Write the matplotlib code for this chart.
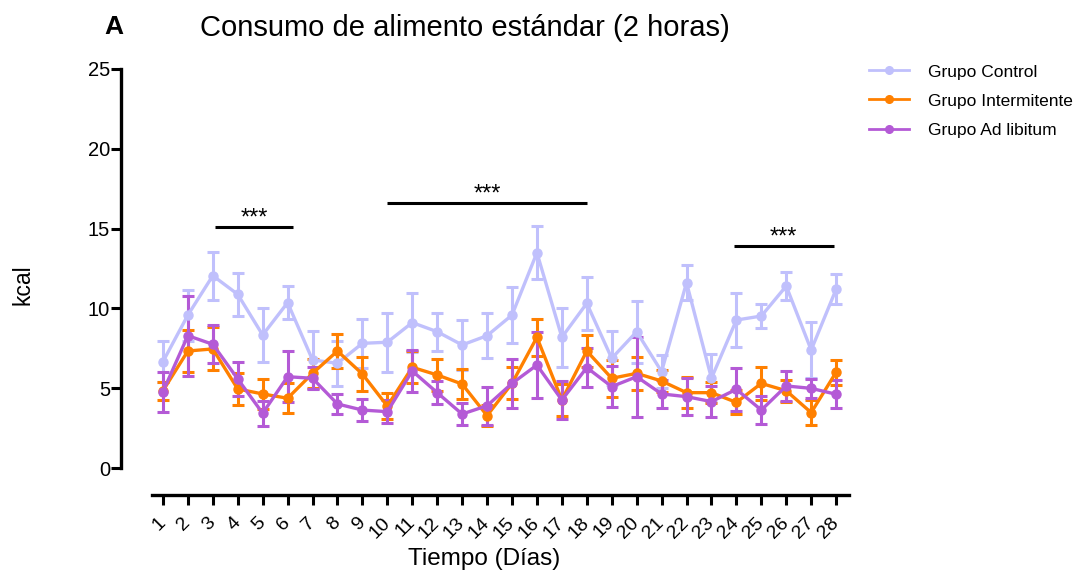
import matplotlib
matplotlib.use("Agg")
import matplotlib.pyplot as plt
from matplotlib.lines import Line2D

plt.rcParams['font.family'] = ['Liberation Sans', 'DejaVu Sans']

days = list(range(1, 29))
day_labels = [str(d) for d in days]

control = [6.66, 9.58, 12.05, 10.88, 8.33, 10.36, 6.77, 6.56, 7.81, 7.88, 9.11, 8.54, 7.71, 8.29,
           9.58, 13.49, 8.19, 10.32, 6.87, 8.54, 6.04, 11.61, 5.62, 9.27, 9.52, 11.40, 7.39, 11.20]
control_err = [1.3, 1.6, 1.5, 1.33, 1.7, 1.05, 1.8, 1.4, 1.55, 1.85, 1.83, 1.2, 1.55, 1.4,
               1.75, 1.65, 1.85, 1.65, 1.7, 1.95, 1.05, 1.1, 1.5, 1.67, 0.77, 0.86, 1.77, 0.93]

intermitente = [4.84, 7.33, 7.46, 4.95, 4.64, 4.37, 5.93, 7.33, 5.89, 3.88, 6.31, 5.83, 5.26, 3.28,
                5.30, 8.19, 4.26, 7.33, 5.62, 5.93, 5.45, 4.72, 4.72, 4.11, 5.30, 4.84, 3.47, 6.00]
intermitente_err = [0.55, 1.3, 1.35, 1.0, 0.95, 0.95, 0.9, 1.05, 1.05, 0.8, 1.0, 1.0, 0.95, 0.65,
                    1.0, 1.15, 1.0, 1.0, 1.15, 1.05, 0.7, 0.95, 0.65, 0.75, 1.05, 0.7, 0.8, 0.77]

adlibitum = [4.78, 8.29, 7.75, 5.58, 3.43, 5.72, 5.62, 4.01, 3.63, 3.53, 6.08, 4.72, 3.38, 3.90,
             5.30, 6.45, 4.26, 6.29, 5.10, 5.72, 4.64, 4.47, 4.16, 4.93, 3.63, 5.14, 4.99, 4.62]
adlibitum_err = [1.25, 2.5, 1.2, 1.05, 0.77, 1.6, 0.7, 0.62, 0.67, 0.7, 1.3, 0.73, 0.68, 1.2,
                 1.55, 2.05, 1.2, 1.2, 1.3, 2.5, 0.9, 1.15, 0.95, 1.35, 0.9, 0.95, 0.6, 0.87]

series_names = ['Grupo Control', 'Grupo Intermitente', 'Grupo Ad libitum']

# significance bars: (start day, end day, height)
sig_start = [3.1, 10.0, 23.9]
sig_end = [6.2, 18.0, 27.9]
sig_y = [15.1, 16.6, 13.9]
sig_text = ['***', '***', '***']

c_control = '#C0C0FC'
c_inter = '#FF8000'
c_adlib = '#B45AD6'
colors = [c_control, c_inter, c_adlib]

fig = plt.figure(figsize=(10.85, 5.71), dpi=100)
ax = fig.add_axes([0.1088, 0.1105, 0.7844 - 0.1088, 0.8932 - 0.1105])

for vals, errs, col, name in zip([control, intermitente, adlibitum],
                                 [control_err, intermitente_err, adlibitum_err],
                                 colors, series_names):
    ax.errorbar(days, vals, yerr=errs, color=col, lw=2.4, marker='o', ms=6.5,
                capsize=4.3, capthick=2.2, elinewidth=2.2, zorder=3)

for s, e, y, t in zip(sig_start, sig_end, sig_y, sig_text):
    ax.plot([s, e], [y, y], color='black', lw=2.2, solid_capstyle='butt')
    ax.text((s + e) / 2, y - 0.15, t, ha='center', va='bottom', fontsize=17)

ax.set_xlim(-0.8, 28.6)
ax.set_ylim(-2.5, 25.5)

ax.spines['top'].set_visible(False)
ax.spines['right'].set_visible(False)
ax.spines['left'].set_position(('data', -0.68))
ax.spines['left'].set_bounds(0, 25)
ax.spines['bottom'].set_position(('data', -1.69))
ax.spines['bottom'].set_bounds(0.56, 28.52)
for sp in ['left', 'bottom']:
    ax.spines[sp].set_linewidth(2.4)

ax.set_yticks([0, 5, 10, 15, 20, 25])
ax.set_xticks(days)
ax.set_xticklabels(day_labels, rotation=45, ha='right', va='center', rotation_mode='anchor')
ax.tick_params(axis='y', length=7, width=2.2, labelsize=14.5, pad=1)
ax.tick_params(axis='x', length=7, width=2.2, labelsize=14, pad=11)

ax.set_ylabel('kcal', fontsize=16.5, labelpad=38)
ax.set_xlabel('Tiempo (Días)', fontsize=17.5, labelpad=5)

fig.text(0.1045, 0.953, 'A', fontsize=19, fontweight='bold', ha='center', va='center')
fig.text(0.1843, 0.951, 'Consumo de alimento estándar (2 horas)', fontsize=21, ha='left', va='center')

handles = [Line2D([0], [0], color=c, lw=2.0, marker='o', ms=5.5) for c in colors]
leg = ax.legend(handles, series_names, loc='upper left', bbox_to_anchor=(1.015, 1.008),
                frameon=False, fontsize=12.5, handlelength=2.3, labelspacing=0.8,
                borderaxespad=0, handletextpad=1.1)

fig.savefig('out.png', dpi=100)
